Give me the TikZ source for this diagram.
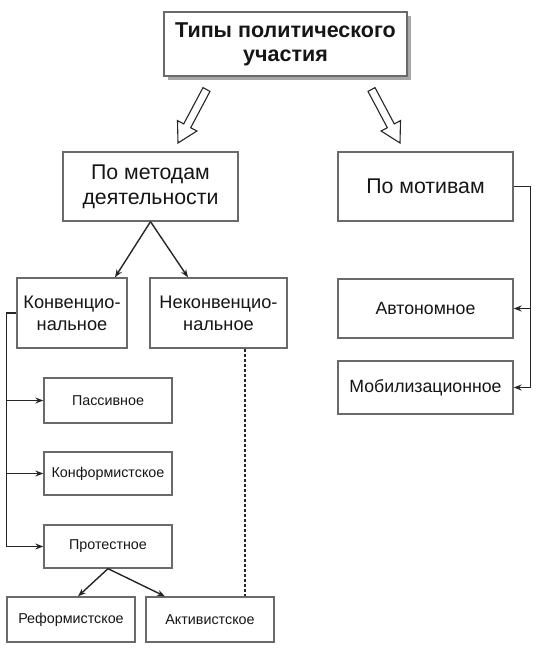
\documentclass[tikz,border=0pt]{standalone}
\usepackage{fontspec}
\setmainfont{Liberation Sans}
\usetikzlibrary{arrows.meta,calc}
\definecolor{boxline}{HTML}{6A6A6A}
\definecolor{conline}{HTML}{262626}
\definecolor{shadowc}{HTML}{A8A8A8}
\definecolor{txt}{HTML}{151515}
\tikzset{
  box/.style={draw=boxline, line width=1.3pt, fill=white, rectangle, inner sep=0pt, align=center, text=txt},
  bigbox/.style={box, font=\fontsize{21.3}{25}\selectfont},
  midbox/.style={box, font=\fontsize{18.2}{22}\selectfont},
  rbox/.style={box, font=\fontsize{17.7}{21}\selectfont},
  smallbox/.style={box, font=\fontsize{14.3}{17}\selectfont},
  con/.style={draw=conline, line width=1.4pt},
  arr/.style={con, -{Stealth[length=8pt,width=6pt]}},
  hollow/.style={draw=conline, line width=1.1pt, fill=white, line join=miter}
}
\begin{document}
\begin{tikzpicture}[x=1pt,y=-1pt]
\useasboundingbox (0,0) rectangle (544,648);
% title with shadow
\fill[shadowc] (168,16) rectangle (411,80);
\node[box, font=\bfseries\fontsize{21.5}{24}\selectfont, minimum width=243pt, minimum height=64pt] (title) at (285.5,44) {Типы политического\\участия};
% hollow arrows
\draw[hollow] (203.0,87.6) -- (210.0,91.4) -- (190.7,127.7) -- (196.9,131.0) -- (178,143) -- (177.5,120.6) -- (183.7,123.9) -- cycle;
\draw[hollow] (375.0,87.6) -- (368.0,91.4) -- (387.3,127.7) -- (381.1,131.0) -- (400,143) -- (400.5,120.6) -- (394.3,123.9) -- cycle;
% level 2
\node[bigbox, minimum width=175pt, minimum height=69pt] (metod) at (150.5,186.5) {По методам\\деятельности};
\node[bigbox, minimum width=175pt, minimum height=69pt] (motiv) at (425.5,186.5) {По мотивам};
% level 3
\node[midbox, minimum width=110pt, minimum height=70pt] (konv) at (72,313) {Конвенцио-\\нальное};
\node[midbox, minimum width=137pt, minimum height=70pt] (nekonv) at (218.5,313) {Неконвенцио-\\нальное};
\node[rbox, minimum width=175pt, minimum height=59pt] (avto) at (425.5,308.5) {Автономное};
\node[rbox, minimum width=175pt, minimum height=53pt] (mobil) at (425.5,387.5) {Мобилизационное};
% left column
\node[smallbox, minimum width=128pt, minimum height=45pt] (pass) at (108,400.5) {Пассивное};
\node[smallbox, minimum width=128pt, minimum height=43pt] (konf) at (108,473.5) {Конформистское};
\node[smallbox, minimum width=128pt, minimum height=43pt] (prot) at (108,546.5) {Протестное};
\node[smallbox, minimum width=128pt, minimum height=45pt] (reform) at (71,619.5) {Реформистское};
\node[smallbox, minimum width=128pt, minimum height=45pt] (aktiv) at (210,619.5) {Активистское};
% connectors
\coordinate (k1) at ($(konv.north)+(43,0)$);
\coordinate (k2) at ($(nekonv.north)+(-30.5,0)$);
\draw[arr] (metod.south) -- (k1);
\draw[arr] (metod.south) -- (k2);
\coordinate (rb) at ($(motiv.east)+(17,0)$);
\draw[con] (motiv.east) -- (rb);
\draw[arr] (rb) |- (mobil.east);
\draw[arr] (avto.east -| rb) -- (avto.east);
\coordinate (lb) at ($(konv.west)+(-10,0)$);
\draw[con] (konv.west) -- (lb);
\draw[arr] (lb) |- (prot.west);
\draw[arr] (pass.west -| lb) -- (pass.west);
\draw[arr] (konf.west -| lb) -- (konf.west);
\coordinate (r1) at ($(reform.north)+(7,0)$);
\coordinate (a1) at ($(aktiv.north)+(-45,0)$);
\draw[arr] (prot.south) -- (r1);
\draw[arr] (prot.south) -- (a1);
\draw[draw=conline, line width=1.1pt, dash pattern=on 3pt off 2pt] ($(nekonv.south)+(26.5,0)$) -- ($(aktiv.north)+(35,0)$);
\end{tikzpicture}
\end{document}
